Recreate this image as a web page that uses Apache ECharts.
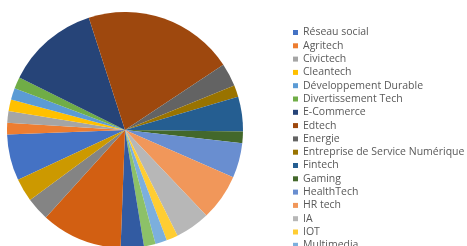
<!DOCTYPE html>
<html>
<head>
<meta charset="utf-8">
<script src="https://cdn.jsdelivr.net/npm/echarts@6/dist/echarts.min.js"></script>
<style>
  html, body { margin: 0; padding: 0; background: #fff; }
  #chart { width: 467px; height: 246px; }
</style>
</head>
<body>
<div id="chart"></div>
<script>
"use strict";
/** Sectors, in the order of the legend */
const categories = [
    "Réseau social", "Agritech", "Civictech", "Cleantech", "Développement Durable",
    "Divertissement Tech", "E-Commerce", "Edtech", "Energie", "Entreprise de Service Numérique",
    "Fintech", "Gaming", "HealthTech", "HR tech", "IA", "IOT", "Multimedia",
    "Proptech", "Retail", "SaaS", "Sport", "Transport"
];
/** Number of startups per sector */
const counts = [4, 1, 1, 1, 1, 1, 8, 13, 2, 1, 3, 1, 3, 4, 3, 1, 1, 1, 2, 7, 2, 2];
/** Office palette, one colour per slice */
const colors = [
    "#4472C4", "#ED7D31", "#A5A5A5", "#FFC000", "#5B9BD5", "#70AD47",
    "#264478", "#9E480E", "#636363", "#997300", "#255E91", "#43682B",
    "#698ED0", "#F1975A", "#B7B7B7", "#FFCD33", "#7CAFDD", "#8CC168",
    "#325BA2", "#D25F12", "#848484", "#CC9900"
];

let chart = echarts.init(document.getElementById("chart"), null, { renderer: "canvas" });

let pieData = categories.map((name, i) => ({
    name: name,
    value: counts[i],
    itemStyle: { color: colors[i] }
}));

chart.setOption({
    animation: false,
    legend: {
        orient: "vertical",
        left: 288,
        top: 22,
        height: 600,
        icon: "rect",
        itemWidth: 5,
        itemHeight: 5,
        itemGap: 2.3,
        textStyle: {
            fontFamily: "Open Sans",
            fontSize: 10.5,
            lineHeight: 11,
            color: "#595959"
        },
        data: categories
    },
    series: [{
        type: "pie",
        center: [125, 130],
        radius: 118,
        startAngle: 205,
        clockwise: true,
        label: { show: false },
        labelLine: { show: false },
        emphasis: { disabled: true },
        itemStyle: { borderWidth: 0 },
        data: pieData
    }]
});
</script>
</body>
</html>
